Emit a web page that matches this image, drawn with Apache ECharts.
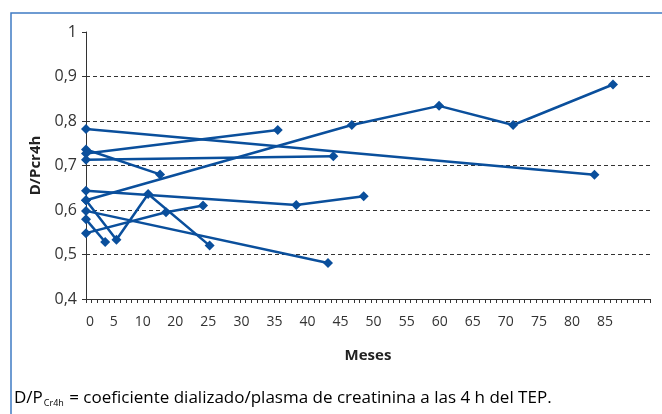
<!DOCTYPE html>
<html>
<head>
<meta charset="utf-8">
<script src="https://cdn.jsdelivr.net/npm/echarts@6/dist/echarts.min.js"></script>
<style>
  html, body { margin: 0; padding: 0; background: #fff; }
  #main { width: 662px; height: 414px; }
</style>
</head>
<body>
<div id="main"></div>
<script>
// etiquetas del eje X tal como aparecen (falta el 15) y su posición en el eje
var xTickLabels = ['0', '5', '10', '20', '25', '30', '35', '40', '45', '50', '55', '60', '65', '70', '75', '80', '85'];
var xTickValues = [0.6, 4.2, 8.6, 13.5, 18.5, 23.5, 28.5, 33.5, 38.5, 43.5, 48.5, 53.5, 58.5, 63.5, 68.5, 73.5, 78.5];

// un paciente por serie: [posición en eje X, D/Pcr4h]
var pac1 = [[0, 0.782], [76.9, 0.679]];
var pac2 = [[0, 0.736], [11.2, 0.680]];
var pac3 = [[0, 0.727], [29.0, 0.780]];
var pac4 = [[0, 0.713], [37.4, 0.721]];
var pac5 = [[0, 0.622], [40.2, 0.791], [53.4, 0.834], [64.6, 0.791], [79.7, 0.882]];
var pac6 = [[0, 0.643], [31.8, 0.611], [42.0, 0.631]];
var pac7 = [[0, 0.598], [36.6, 0.481]];
var pac8 = [[0, 0.579], [2.9, 0.528]];
var pac9 = [[0, 0.622], [4.6, 0.533], [9.4, 0.636], [18.7, 0.520]];
var pac10 = [[0, 0.548], [12.1, 0.595], [17.7, 0.610]];

var pacientes = [pac1, pac2, pac3, pac4, pac5, pac6, pac7, pac8, pac9, pac10];

var chart = echarts.init(document.getElementById('main'), null, { renderer: 'canvas' });

// eje auxiliar solo para el peine de marcas del eje X
var tickSlots = [];
for (var i = 0; i < 100; i++) {
    tickSlots.push('');
}

var font = '"Open Sans", "Noto Sans", sans-serif';

var option = {
    animation: false,
    backgroundColor: '#fff',
    grid: {
        left: 86,
        right: 12,
        top: 32,
        bottom: 115
    },
    xAxis: [{
        type: 'value',
        position: 'bottom',
        min: 0,
        max: 85.3,
        name: 'Meses',
        nameLocation: 'middle',
        nameGap: 49,
        nameTextStyle: {
            fontFamily: font,
            fontWeight: 'bold',
            fontSize: 15,
            color: '#222'
        },
        axisLine: {
            lineStyle: { color: '#333', width: 1 }
        },
        axisTick: { show: false },
        axisLabel: {
            customValues: xTickValues,
            margin: 16,
            fontFamily: font,
            fontSize: 14,
            color: '#333',
            formatter: function (v) {
                var best = 0;
                for (var k = 0; k < xTickValues.length; k++) {
                    if (Math.abs(xTickValues[k] - v) < Math.abs(xTickValues[best] - v)) best = k;
                }
                return xTickLabels[best];
            }
        },
        splitLine: { show: false }
    }, {
        type: 'category',
        position: 'bottom',
        data: tickSlots,
        boundaryGap: false,
        axisLine: { show: false },
        axisTick: {
            show: true,
            interval: 0,
            length: 4,
            lineStyle: { color: '#333', width: 1 }
        },
        axisLabel: { show: false },
        splitLine: { show: false }
    }],
    yAxis: {
        type: 'value',
        min: 0.4,
        max: 1,
        interval: 0.1,
        name: 'D/Pcr4h',
        nameLocation: 'middle',
        nameGap: 40,
        nameTextStyle: {
            fontFamily: font,
            fontWeight: 'bold',
            fontSize: 15,
            color: '#222'
        },
        axisLine: {
            show: true,
            lineStyle: { color: '#333', width: 1 }
        },
        axisTick: {
            show: true,
            length: 4,
            lineStyle: { color: '#333' }
        },
        axisLabel: {
            margin: 9,
            fontFamily: font,
            fontSize: 16,
            color: '#333',
            formatter: function (v) {
                if (Math.abs(v - 1) < 1e-9) return '1';
                return v.toFixed(1).replace('.', ',');
            }
        },
        splitLine: {
            show: true,
            showMaxLine: false,
            lineStyle: { color: '#333', width: 1, type: [4, 3] }
        }
    },
    series: pacientes.map(function (p) {
        return {
            type: 'line',
            xAxisIndex: 0,
            data: p,
            symbol: 'diamond',
            symbolSize: 10,
            lineStyle: { color: '#0a4f9c', width: 2.5 },
            itemStyle: { color: '#0a4f9c' },
            z: 3
        };
    }),
    graphic: [
        {
            type: 'rect',
            silent: true,
            shape: { x: 11, y: 13, width: 700, height: 450 },
            style: { fill: 'none', stroke: '#3f7bc4', lineWidth: 1.5 }
        },
        {
            type: 'text',
            left: 14,
            top: 389,
            style: {
                text: '{n|D/P}{s|Cr4h}{n| = coeficiente dializado/plasma de creatinina a las 4 h del TEP.}',
                rich: {
                    n: { fontFamily: font, fontSize: 17, color: '#222', lineHeight: 22 },
                    s: { fontFamily: font, fontSize: 9, color: '#222', padding: [10, 1, 0, 1], lineHeight: 22 }
                }
            }
        }
    ]
};

chart.setOption(option);
</script>
</body>
</html>
